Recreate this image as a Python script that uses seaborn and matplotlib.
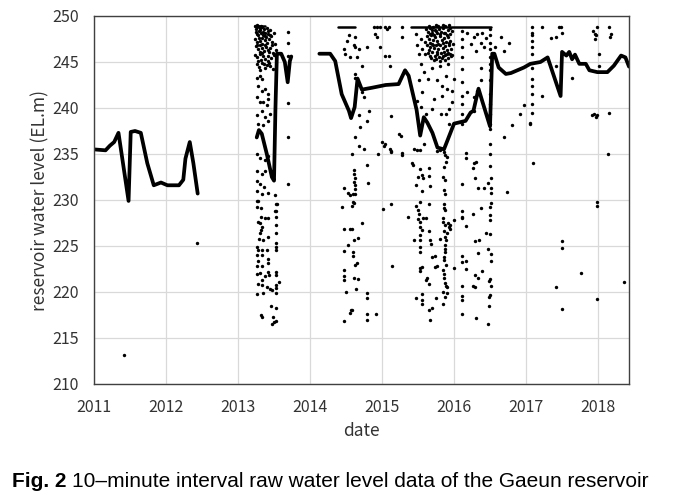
import pandas as pd
import matplotlib.pyplot as plt
import seaborn as sns

# ---- main (smoothed) water level trace, in decimal years ----
trace_2011_year = [2011.00, 2011.16, 2011.22, 2011.28, 2011.34, 2011.48, 2011.51, 2011.57, 2011.65,
                   2011.74, 2011.83, 2011.93, 2012.02, 2012.18, 2012.24, 2012.27, 2012.33, 2012.38, 2012.44]
trace_2011_level = [235.5, 235.4, 235.9, 236.3, 237.3, 229.9, 237.4, 237.5, 237.3,
                    234.0, 231.6, 231.9, 231.6, 231.6, 232.2, 234.5, 236.3, 234.0, 230.7]

trace_2013_year = [2013.26, 2013.29, 2013.33, 2013.40, 2013.47, 2013.50, 2013.52, 2013.54,
                   2013.60, 2013.65, 2013.69, 2013.72, 2013.74]
trace_2013_level = [236.8, 237.6, 237.2, 235.0, 232.5, 232.1, 240.0, 245.9,
                    245.9, 245.0, 242.8, 245.1, 245.6]

trace_2014_year = [2014.13, 2014.28, 2014.35, 2014.44, 2014.54, 2014.57, 2014.62, 2014.66, 2014.72,
                   2014.86, 2015.05, 2015.23, 2015.32, 2015.37, 2015.48, 2015.53, 2015.58, 2015.63,
                   2015.70, 2015.77, 2015.86, 2015.90, 2015.97, 2016.00, 2016.16, 2016.23, 2016.27,
                   2016.34, 2016.39, 2016.50, 2016.53, 2016.56, 2016.62, 2016.72, 2016.79, 2016.97,
                   2017.06, 2017.20, 2017.30, 2017.48, 2017.50, 2017.56, 2017.60, 2017.64, 2017.68,
                   2017.74, 2017.83, 2017.88, 2017.99, 2018.13, 2018.22, 2018.32, 2018.38, 2018.43]
trace_2014_level = [245.9, 245.9, 245.1, 241.5, 239.7, 238.9, 240.1, 243.2, 242.0,
                    242.2, 242.5, 242.6, 244.1, 243.5, 239.8, 237.0, 239.0, 238.4,
                    237.3, 235.7, 235.5, 236.3, 237.7, 238.3, 238.6, 239.5, 239.7,
                    242.1, 240.8, 238.0, 245.9, 245.9, 244.4, 243.7, 243.8, 244.4,
                    244.8, 245.0, 245.5, 241.3, 246.1, 245.7, 246.1, 245.3, 245.8,
                    244.8, 244.8, 244.1, 243.9, 243.9, 244.6, 245.7, 245.5, 244.5]

# sensor saturating at the top of its range
band_year = [[2013.24, 2013.37], [2014.39, 2014.63], [2015.40, 2016.51]]
band_level = [248.9, 248.8, 248.8]

# ---- raw outliers (year, level) ----
stray_2011 = [(2011.42, 213.1), (2012.43, 225.3)]

stray_2013 = [
    (2013.24, 248.9), (2013.26, 248.8), (2013.28, 248.9), (2013.30, 248.7), (2013.33, 248.8),
    (2013.36, 248.6), (2013.40, 248.7), (2013.44, 248.5), (2013.25, 248.3), (2013.27, 248.0),
    (2013.29, 248.4), (2013.32, 248.1), (2013.35, 247.9), (2013.38, 248.2), (2013.42, 248.0),
    (2013.46, 247.8), (2013.50, 248.1), (2013.24, 247.5), (2013.26, 247.2), (2013.29, 247.6),
    (2013.31, 247.3), (2013.34, 247.0), (2013.37, 247.4), (2013.40, 247.1), (2013.43, 247.5),
    (2013.47, 247.2), (2013.52, 247.0), (2013.25, 246.7), (2013.28, 246.4), (2013.30, 246.8),
    (2013.33, 246.5), (2013.36, 246.2), (2013.39, 246.6), (2013.41, 246.3), (2013.45, 246.5),
    (2013.49, 246.0), (2013.53, 246.3), (2013.24, 245.8), (2013.27, 245.5), (2013.30, 245.9),
    (2013.32, 245.2), (2013.35, 245.6), (2013.38, 245.3), (2013.42, 245.7), (2013.46, 245.4),
    (2013.50, 245.8), (2013.26, 244.8), (2013.29, 244.5), (2013.33, 244.9), (2013.37, 244.3),
    (2013.40, 244.7), (2013.44, 244.6), (2013.48, 244.2), (2013.27, 249.0), (2013.31, 248.5),
    (2013.39, 247.7), (2013.34, 246.0), (2013.43, 244.9), (2013.31, 244.1), (2013.47, 246.9),
    (2013.25, 248.6), (2013.32, 248.9), (2013.35, 248.3), (2013.41, 248.4), (2013.37, 247.8),
    (2013.28, 247.9), (2013.33, 247.6), (2013.44, 247.9), (2013.26, 246.9), (2013.31, 246.1),
    (2013.38, 246.9), (2013.43, 246.1), (2013.28, 245.1), (2013.36, 244.8), (2013.41, 245.1),
    (2013.258, 243.3), (2013.304, 243.5), (2013.328, 243.1), (2013.272, 242.4), (2013.328, 241.9),
    (2013.374, 242.1), (2013.42, 241.5), (2013.258, 241.2), (2013.304, 240.7), (2013.351, 240.6),
    (2013.42, 241.0), (2013.397, 240.3), (2013.328, 239.7), (2013.258, 239.2), (2013.374, 239.0),
    (2013.443, 239.3), (2013.281, 238.3), (2013.351, 238.1), (2013.42, 238.6), (2013.258, 235.0),
    (2013.304, 234.6), (2013.374, 234.3), (2013.42, 234.8), (2013.258, 233.2), (2013.328, 232.8),
    (2013.374, 233.2), (2013.258, 232.1), (2013.304, 231.7), (2013.365, 231.4), (2013.258, 231.0),
    (2013.328, 230.7), (2013.42, 230.8), (2013.281, 229.9), (2013.513, 230.5), (2013.536, 229.6),
    (2013.258, 229.2), (2013.513, 228.8),
    (2013.69, 248.3), (2013.69, 247.1), (2013.69, 245.6), (2013.69, 240.5), (2013.69, 236.8),
    (2013.69, 231.7),
    (2013.258, 229.9), (2013.314, 229.1), (2013.318, 228.1), (2013.374, 228.0), (2013.411, 228.0),
    (2013.281, 227.6), (2013.304, 227.5), (2013.328, 227.1), (2013.314, 226.7), (2013.304, 226.4),
    (2013.29, 225.8), (2013.35, 225.7), (2013.41, 226.0), (2013.258, 224.9), (2013.281, 224.6),
    (2013.328, 224.6), (2013.397, 224.6), (2013.258, 224.0), (2013.328, 224.0), (2013.411, 223.6),
    (2013.42, 223.2), (2013.272, 223.4), (2013.258, 222.8), (2013.328, 222.8), (2013.258, 222.0),
    (2013.304, 222.1), (2013.411, 222.2), (2013.374, 221.7), (2013.328, 221.3), (2013.434, 221.8),
    (2013.272, 220.9), (2013.328, 220.8), (2013.397, 220.5), (2013.443, 220.3), (2013.467, 220.2),
    (2013.258, 219.8), (2013.351, 219.9), (2013.457, 218.5), (2013.527, 218.3), (2013.314, 217.5),
    (2013.328, 217.3), (2013.481, 217.3), (2013.467, 216.5), (2013.504, 216.7), (2013.527, 216.9),
    (2013.527, 229.6), (2013.527, 228.8), (2013.527, 228.1), (2013.527, 227.3), (2013.527, 226.4),
    (2013.527, 225.3), (2013.527, 224.9), (2013.527, 224.6), (2013.527, 222.2), (2013.527, 221.8),
    (2013.573, 221.1), (2013.527, 220.8), (2013.527, 220.4), (2013.527, 219.9),
]

stray_2014 = [
    (2014.538, 247.9), (2014.515, 247.3), (2014.63, 247.7), (2014.607, 246.8), (2014.621, 246.6),
    (2014.677, 246.4), (2014.468, 246.4), (2014.491, 245.9), (2014.561, 245.5), (2014.654, 245.5),
    (2014.723, 244.6), (2014.793, 246.6), (2014.909, 248.0), (2014.932, 247.7), (2014.978, 248.8),
    (2015.048, 248.8), (2015.071, 248.6), (2015.094, 248.8), (2014.978, 246.6), (2015.048, 245.7),
    (2015.094, 245.7), (2014.63, 243.7), (2014.621, 243.3), (2014.723, 241.7), (2014.746, 241.2),
    (2014.816, 239.7), (2014.677, 239.2), (2014.70, 237.9), (2014.793, 238.6), (2014.63, 236.8),
    (2014.746, 235.5), (2014.677, 235.9), (2014.584, 235.0), (2015.001, 236.3), (2015.048, 236.1),
    (2015.024, 235.9), (2015.117, 235.5), (2015.233, 237.2), (2015.279, 248.8), (2015.279, 247.7),
    (2015.117, 244.6), (2014.885, 248.8), (2014.932, 248.8),
    (2014.607, 233.3), (2014.607, 232.8), (2014.63, 232.4), (2014.616, 232.0), (2014.63, 231.6),
    (2014.467, 231.3), (2014.523, 230.8), (2014.56, 230.5), (2014.597, 230.7), (2014.63, 230.7),
    (2014.63, 231.2), (2014.597, 229.8), (2014.607, 229.7), (2014.588, 229.3), (2014.444, 229.2),
    (2014.792, 233.8), (2014.806, 231.9), (2014.727, 227.5), (2014.477, 226.9), (2014.56, 226.9),
    (2014.583, 226.9), (2014.671, 225.9), (2014.607, 225.7), (2014.523, 225.1), (2014.467, 224.5),
    (2014.597, 224.3), (2014.593, 223.9), (2014.63, 222.9), (2014.653, 223.2), (2014.467, 222.4),
    (2014.467, 221.7), (2014.467, 221.3), (2014.607, 221.5), (2014.671, 221.4), (2014.639, 220.3),
    (2014.495, 220.0), (2014.792, 219.9), (2014.797, 219.4), (2014.569, 218.0), (2014.583, 218.0),
    (2014.56, 217.7), (2014.792, 217.6), (2014.913, 217.6), (2014.797, 217.0), (2014.477, 216.8),
    (2015.015, 229.0), (2015.126, 229.6), (2015.144, 222.8), (2015.358, 228.2), (2015.27, 237.0),
    (2015.28, 234.9), (2015.12, 239.1), (2014.95, 235.0), (2015.12, 235.2), (2015.126, 235.3),
    (2015.279, 235.1),
]

stray_2015 = [
    # dense block near the top of the range
    (2015.61, 248.6), (2015.64, 248.3), (2015.67, 248.7), (2015.70, 248.2), (2015.73, 248.5),
    (2015.76, 248.1), (2015.79, 248.6), (2015.82, 248.3), (2015.85, 248.7), (2015.88, 248.2),
    (2015.91, 248.5), (2015.94, 248.0), (2015.97, 248.4), (2015.62, 247.8), (2015.65, 247.5),
    (2015.68, 247.9), (2015.71, 247.4), (2015.74, 247.7), (2015.77, 247.3), (2015.80, 247.8),
    (2015.83, 247.4), (2015.86, 247.6), (2015.89, 247.2), (2015.92, 247.7), (2015.95, 247.3),
    (2015.63, 246.9), (2015.66, 246.6), (2015.69, 247.0), (2015.72, 246.5), (2015.75, 246.8),
    (2015.78, 246.4), (2015.81, 246.9), (2015.84, 246.5), (2015.87, 246.7), (2015.90, 246.3),
    (2015.93, 246.8), (2015.96, 246.4), (2015.64, 246.0), (2015.67, 245.7), (2015.70, 246.1),
    (2015.73, 245.6), (2015.76, 245.9), (2015.79, 245.5), (2015.82, 246.0), (2015.85, 245.6),
    (2015.88, 245.8), (2015.91, 245.4), (2015.94, 245.9), (2015.72, 245.2), (2015.80, 245.1),
    (2015.87, 245.2), (2015.66, 248.0), (2015.75, 249.0), (2015.84, 249.0), (2015.93, 249.0),
    (2015.60, 247.2), (2015.98, 247.0), (2015.59, 245.9), (2015.97, 245.8),
    (2015.65, 248.9), (2015.71, 248.8), (2015.78, 248.9), (2015.87, 248.9), (2015.95, 248.7),
    (2015.69, 248.5), (2015.75, 248.4), (2015.81, 248.0), (2015.86, 248.1), (2015.90, 247.9),
    (2015.66, 247.1), (2015.72, 247.9), (2015.78, 247.0), (2015.84, 247.1), (2015.93, 247.1),
    (2015.65, 246.3), (2015.71, 246.9), (2015.77, 246.1), (2015.86, 246.1), (2015.92, 246.0),
    (2015.68, 245.4), (2015.75, 245.3), (2015.83, 245.4), (2015.90, 245.9), (2015.96, 245.6),
    # scattered around it
    (2015.465, 248.0), (2015.535, 247.5), (2015.488, 246.8), (2015.511, 245.9), (2015.558, 246.4),
    (2015.535, 244.8), (2015.581, 243.9), (2015.511, 243.0), (2015.558, 241.7), (2015.488, 240.8),
    (2015.535, 240.1), (2015.604, 239.3), (2015.72, 241.0), (2015.697, 239.9), (2015.813, 239.3),
    (2015.836, 241.3), (2015.836, 242.4), (2015.766, 243.0), (2015.882, 243.5), (2015.906, 242.1),
    (2015.975, 241.9), (2015.998, 243.2), (2015.975, 240.6), (2015.929, 239.9), (2015.882, 239.3),
    (2015.929, 238.3), (2015.488, 235.4), (2015.581, 236.1), (2015.442, 235.5), (2015.80, 244.6),
    (2015.70, 244.3), (2015.92, 244.8), (2015.64, 243.2),
    # spread below the trace
    (2015.418, 234.0), (2015.432, 233.8), (2015.525, 233.4), (2015.497, 232.5), (2015.557, 232.7),
    (2015.571, 232.4), (2015.478, 231.6), (2015.557, 231.0), (2015.664, 231.5), (2015.65, 233.5),
    (2015.659, 232.6), (2015.525, 229.8), (2015.65, 229.6), (2015.478, 229.3), (2015.497, 228.9),
    (2015.511, 228.5), (2015.497, 227.9), (2015.571, 228.0), (2015.525, 227.6), (2015.534, 227.1),
    (2015.557, 226.7), (2015.534, 226.2), (2015.45, 225.6), (2015.525, 225.6), (2015.664, 225.7),
    (2015.682, 225.2), (2015.659, 226.6), (2015.608, 228.0), (2015.525, 224.9), (2015.525, 224.3),
    (2015.696, 223.8), (2015.742, 223.9), (2015.742, 222.7), (2015.765, 222.8), (2015.534, 222.6),
    (2015.525, 222.3), (2015.557, 222.7), (2015.626, 221.5), (2015.65, 220.9), (2015.608, 221.3),
    (2015.474, 219.3), (2015.557, 219.8), (2015.557, 219.1), (2015.557, 218.7), (2015.65, 218.0),
    (2015.696, 218.3), (2015.664, 217.0), (2015.747, 219.3), (2015.812, 225.8), (2015.928, 227.1),
    (2015.849, 232.5), (2015.881, 232.2), (2015.858, 231.1), (2015.881, 230.7), (2015.867, 229.6),
    (2015.858, 229.1), (2015.881, 228.9), (2015.849, 228.0), (2015.849, 227.6), (2015.881, 227.3),
    (2015.914, 227.5), (2015.951, 227.3), (2015.951, 226.9), (2015.858, 226.6), (2015.905, 226.4),
    (2015.881, 226.0), (2015.895, 225.7), (2015.881, 225.1), (2015.881, 224.7), (2015.881, 224.4),
    (2015.858, 223.8), (2015.867, 223.5), (2015.895, 222.9), (2015.849, 222.4), (2015.858, 222.0),
    (2015.867, 221.5), (2015.881, 221.0), (2015.895, 220.6), (2015.905, 220.5), (2015.849, 220.0),
    (2015.905, 219.9), (2015.881, 219.5), (2015.849, 218.7), (2015.997, 222.6), (2015.997, 227.8),
    (2015.525, 235.4), (2015.765, 235.3), (2015.812, 235.4), (2015.858, 235.2), (2015.881, 234.9),
    (2015.905, 234.7), (2015.867, 233.6), (2015.89, 234.1),
]

stray_2016 = [
    (2016.113, 248.4), (2016.113, 247.5), (2016.113, 246.6), (2016.113, 245.5), (2016.113, 244.2),
    (2016.113, 242.8), (2016.113, 241.3), (2016.113, 240.4), (2016.113, 239.3), (2016.113, 238.3),
    (2016.276, 247.7), (2016.322, 248.0), (2016.392, 248.2), (2016.368, 247.1), (2016.415, 246.6),
    (2016.299, 246.2), (2016.368, 244.4), (2016.368, 243.0), (2016.313, 241.9), (2016.276, 241.2),
    (2016.183, 241.7), (2016.276, 239.7), (2016.18, 248.2), (2016.24, 247.0), (2016.45, 247.6),
    (2016.494, 248.6), (2016.494, 247.9), (2016.494, 247.1), (2016.494, 246.4), (2016.494, 245.5),
    (2016.494, 244.8), (2016.494, 244.1), (2016.494, 243.0), (2016.494, 241.5), (2016.494, 240.4),
    (2016.494, 239.3), (2016.494, 238.3), (2016.494, 237.7), (2016.498, 236.1), (2016.498, 235.0),
    (2016.498, 233.7),
    (2016.16, 235.1), (2016.16, 234.6), (2016.275, 234.0), (2016.266, 233.5), (2016.308, 234.1),
    (2016.113, 231.7), (2016.285, 232.4), (2016.331, 231.3), (2016.415, 231.3), (2016.47, 231.8),
    (2016.507, 232.4), (2016.507, 231.3), (2016.507, 230.8), (2016.507, 229.7), (2016.498, 229.2),
    (2016.498, 228.4), (2016.498, 227.8), (2016.368, 229.1), (2016.266, 228.5), (2016.113, 228.8),
    (2016.113, 228.2), (2016.113, 228.0), (2016.169, 227.2), (2016.285, 225.5), (2016.35, 225.7),
    (2016.447, 226.4), (2016.498, 226.3), (2016.47, 224.7), (2016.331, 224.2), (2016.507, 224.1),
    (2016.507, 223.4), (2016.113, 223.9), (2016.113, 223.3), (2016.169, 223.4), (2016.169, 222.5),
    (2016.391, 222.3), (2016.294, 221.9), (2016.336, 221.5), (2016.498, 221.4), (2016.484, 221.2),
    (2016.507, 220.7), (2016.113, 220.6), (2016.266, 220.7), (2016.294, 220.5), (2016.498, 219.7),
    (2016.489, 219.5), (2016.113, 219.6), (2016.113, 219.1), (2016.484, 218.5), (2016.113, 217.6),
    (2016.299, 217.2), (2016.47, 216.5),
    (2016.646, 247.7), (2016.762, 247.1), (2016.693, 246.2), (2016.568, 246.6),
    (2016.69, 236.8), (2016.81, 238.2), (2016.91, 239.4), (2016.97, 240.3), (2016.74, 230.9),
]

stray_2017 = [
    (2017.087, 248.8), (2017.087, 248.2), (2017.087, 247.9), (2017.087, 247.3), (2017.087, 246.6),
    (2017.087, 245.9), (2017.087, 244.4), (2017.087, 243.2), (2017.087, 242.4), (2017.087, 241.5),
    (2017.087, 240.4), (2017.087, 239.5), (2017.054, 238.4), (2017.06, 238.3), (2017.09, 234.0),
    (2017.226, 248.8), (2017.226, 241.3), (2017.342, 247.6), (2017.411, 247.7), (2017.458, 248.8),
    (2017.481, 248.8), (2017.504, 248.2), (2017.421, 244.6), (2017.643, 243.3),
    (2017.935, 248.4), (2017.954, 248.0), (2017.968, 247.9), (2017.959, 247.5), (2017.991, 248.8),
    (2018.153, 248.8), (2018.176, 248.0), (2018.167, 247.7), (2018.014, 245.9), (2018.014, 244.6),
    (2018.153, 239.5), (2017.945, 239.3), (2017.991, 239.2), (2017.968, 239.0), (2017.921, 239.2),
    (2017.495, 225.5), (2017.495, 224.8), (2017.495, 218.2), (2017.41, 220.5), (2017.77, 222.1),
    (2017.99, 219.2), (2017.98, 229.8), (2017.985, 229.4), (2018.14, 235.0), (2018.36, 221.1),
]

caption_bold = "Fig. 2"
caption_text = "10\u2013minute interval raw water level data of the Gaeun reservoir"

# ---- assemble tables ----
trace = pd.concat([
    pd.DataFrame({"year": trace_2011_year, "level": trace_2011_level, "seg": "a"}),
    pd.DataFrame({"year": trace_2013_year, "level": trace_2013_level, "seg": "b"}),
    pd.DataFrame({"year": trace_2014_year, "level": trace_2014_level, "seg": "c"}),
], ignore_index=True)

bands = pd.DataFrame({
    "year": [y for pair in band_year for y in pair],
    "level": [lv for lv in band_level for _ in range(2)],
    "seg": [i for i in range(len(band_year)) for _ in range(2)],
})

stray = pd.DataFrame(stray_2011 + stray_2013 + stray_2014 + stray_2015 + stray_2016 + stray_2017,
                     columns=["year", "level"])

# ---- drawing ----
sns.set_theme(style="whitegrid")
plt.rcParams["font.family"] = ["Noto Sans CJK KR", "DejaVu Sans"]

fig = plt.figure(figsize=(6.76, 4.98), dpi=100)
ax = fig.add_axes([94 / 676, 114 / 498, 535 / 676, 368 / 498])

sns.scatterplot(data=stray, x="year", y="level", color="black", s=6, linewidth=0, ax=ax)
sns.lineplot(data=bands, x="year", y="level", units="seg", estimator=None,
             color="black", linewidth=1.8, ax=ax)
sns.lineplot(data=trace, x="year", y="level", units="seg", estimator=None, sort=False,
             color="black", linewidth=2.7, ax=ax)

ax.set_xlim(2011, 2018.43)
ax.set_ylim(210, 250)
ax.set_xticks(range(2011, 2019))
ax.set_xticklabels([str(y) for y in range(2011, 2019)])
ax.set_yticks(range(210, 251, 5))
ax.grid(True, color="#d9d9d9", linewidth=0.9)
for side in ["left", "right", "top", "bottom"]:
    ax.spines[side].set_color("#404040")
    ax.spines[side].set_linewidth(1.0)
ax.tick_params(axis="both", labelsize=11.5, colors="#333333", length=0, pad=11)
ax.set_xlabel("date", fontsize=12.5, color="#333333", labelpad=4)
ax.set_ylabel("reservoir water level (EL.m)", fontsize=12.5, color="#333333", labelpad=2)

# caption: bold figure number followed by the description, fitted to the page width
renderer = fig.canvas.get_renderer()
size = 15.0
while True:
    t1 = fig.text(12 / 676, 0.022, caption_bold, fontsize=size, weight="bold",
                  family="Liberation Sans", color="black")
    x_end = t1.get_window_extent(renderer).x1
    t2 = fig.text((x_end + 5) / 676, 0.022, caption_text, fontsize=size,
                  family="Liberation Sans", color="black")
    if t2.get_window_extent(renderer).x1 <= 664 or size < 8:
        break
    t1.remove()
    t2.remove()
    size -= 0.25

plt.savefig("out.png", dpi=100)
